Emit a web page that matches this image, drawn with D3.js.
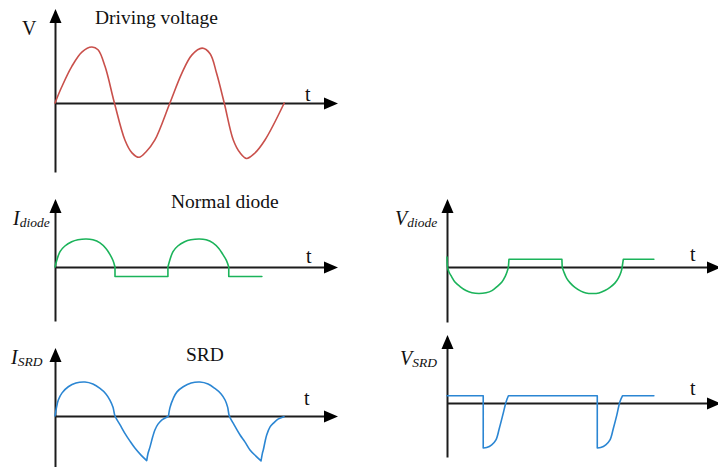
<!DOCTYPE html>
<html>
<head>
<meta charset="utf-8">
<script src="https://cdn.jsdelivr.net/npm/d3@7"></script>
<style>
  html, body { margin: 0; padding: 0; background: #fff; }
  svg { display: block; }
</style>
</head>
<body>
<svg id="chart" width="718" height="467"></svg>
<script>
// ---------- DATA (time units, normalised amplitude) ----------
const drivingVoltage = [
  [0,0],[2.4,0.29],[5.9,0.65],[9.5,0.91],[13.0,1.0],[15.2,0.95],[17.7,0.65],
  [21.0,0],[24.7,-0.66],[27.2,-0.89],[29.7,-0.97],[32.2,-0.87],[35.3,-0.66],
  [40.6,0],[44.8,0.53],[48.4,0.86],[52.0,0.98],[54.8,0.88],[57.1,0.53],
  [59.8,0],[63.0,-0.66],[65.4,-0.89],[67.7,-0.99],[70.3,-0.91],[74.2,-0.66],[81.0,0]
];

const iDiodePieces = [
  [[0,0],[1.77,0.55],[3.5,0.75],[5.9,0.9],[8.1,0.97],[11.0,1.0],[13.4,0.97],
   [15.9,0.86],[18.0,0.66],[19.4,0.45],[20.5,0.23],[21.2,0]],
  [[21.2,0],[21.2,-0.34]],
  [[21.2,-0.34],[39.9,-0.34]],
  [[39.9,-0.34],[39.9,0]],
  [[39.9,0],[41.7,0.55],[43.4,0.75],[45.8,0.9],[48.0,0.97],[51.0,1.0],[53.4,0.97],
   [55.8,0.86],[57.9,0.66],[59.3,0.45],[60.6,0.23],[61.4,0]],
  [[61.4,0],[61.4,-0.34]],
  [[61.4,-0.34],[73.1,-0.34]]
];

const vDiodePieces = [
  [[0,0.38],[0.18,0],[0.7,-0.19],[1.66,-0.37],[2.8,-0.57],[4.6,-0.74],[6.7,-0.89],
   [8.8,-0.97],[11.3,-1.0],[13.8,-0.97],[15.9,-0.89],[17.7,-0.74],[19.4,-0.57],
   [20.5,-0.37],[21.2,-0.19],[21.7,0]],
  [[21.7,0],[21.9,0.29]],
  [[21.9,0.29],[40.6,0.29]],
  [[40.6,0.29],[40.7,0]],
  [[40.7,0],[41.3,-0.19],[42.3,-0.43],[43.5,-0.6],[45.2,-0.77],[47.3,-0.91],[49.1,-0.98],
   [51.3,-1.0],[53.7,-0.98],[55.8,-0.89],[57.6,-0.77],[59.4,-0.6],[60.5,-0.43],
   [61.5,-0.19],[61.9,0]],
  [[61.9,0],[62.3,0.29]],
  [[62.3,0.29],[73.1,0.29]]
];

const iSrdPieces = [
  [[0,0],[0.5,0.24],[1.17,0.47],[2.5,0.68],[4.7,0.86],[7.4,0.97],[10.6,1.0],[13.4,0.94],
   [15.9,0.81],[18.0,0.65],[19.4,0.47],[20.5,0.26],[21.2,0],[23.0,-0.26],[24.7,-0.51],
   [26.5,-0.74],[28.3,-0.95],[30.4,-1.15],[32.4,-1.31]],
  [[32.4,-1.31],[32.9,-1.09],[33.6,-0.9],[34.5,-0.62],[35.3,-0.41],[36.4,-0.24],
   [37.7,-0.12],[38.9,-0.06],[39.8,-0.02]],
  [[40.1,0],[40.6,0.24],[41.8,0.52],[43.1,0.71],[45.3,0.86],[48.1,0.97],[51.2,1.0],
   [54.1,0.94],[56.5,0.81],[58.7,0.65],[60.1,0.47],[61.0,0.26],[61.6,0],[63.3,-0.26],
   [65.4,-0.56],[67.1,-0.76],[68.9,-1.0],[71.0,-1.18],[72.8,-1.32]],
  [[72.8,-1.32],[73.3,-1.09],[73.6,-1.0],[74.8,-0.56],[76.0,-0.32],[77.2,-0.21],
   [78.8,-0.09],[80.9,-0.02]]
];

const vSrdPieces = [
  [[0,0.16],[12.8,0.16]],
  [[12.8,0.16],[12.8,-1.0]],
  [[12.8,-1.0],[14.0,-0.99],[15.8,-0.93],[17.3,-0.82],[18.5,-0.56],[19.7,-0.27],[20.9,0.03],[21.7,0.16]],
  [[21.7,0.16],[53.1,0.16]],
  [[53.1,0.16],[53.1,-1.0]],
  [[53.1,-1.0],[54.3,-0.99],[56.1,-0.93],[57.6,-0.82],[58.8,-0.56],[60.0,-0.27],[61.1,0.03],[62.0,0.16]],
  [[62.0,0.16],[73.1,0.16]]
];

const titles = ["Driving voltage", "Normal diode", "SRD"];
const axisLabelT = "t";

// ---------- LAYOUT ----------
const FONT = "'Liberation Serif', 'Times New Roman', Times, serif";
const pxPerT = 2.83;
const colors = { red: "#c9504b", green: "#1bb35a", blue: "#2b86d3" };

const panels = [
  { pieces: [drivingVoltage], color: colors.red, x0: 55, zeroY: 103, unit: 56,
    tipY: 9, bottomY: 172, tipX: 338,
    yLabel: { main: "V", sub: null, x: 22, y: 35, italic: false },
    tLabel: { x: 305, y: 101 }, title: { text: titles[0], x: 95, y: 24 } },
  { pieces: iDiodePieces, color: colors.green, x0: 55, zeroY: 267, unit: 28,
    tipY: 199, bottomY: 321, tipX: 338,
    yLabel: { main: "I", sub: "diode", x: 13, y: 225, italic: true },
    tLabel: { x: 306, y: 263 }, title: { text: titles[1], x: 171, y: 208 } },
  { pieces: vDiodePieces, color: colors.green, x0: 447, zeroY: 267, unit: 26.5,
    tipY: 199, bottomY: 322, tipX: 721,
    yLabel: { main: "V", sub: "diode", x: 395, y: 225, italic: true },
    tLabel: { x: 690, y: 261 }, title: null },
  { pieces: iSrdPieces, color: colors.blue, x0: 55, zeroY: 416, unit: 34,
    tipY: 348, bottomY: 467, tipX: 338,
    yLabel: { main: "I", sub: "SRD", x: 11, y: 364, italic: true },
    tLabel: { x: 304, y: 405 }, title: { text: titles[2], x: 186, y: 361 } },
  { pieces: vSrdPieces, color: colors.blue, x0: 447, zeroY: 403, unit: 45,
    tipY: 335, bottomY: 457, tipX: 721,
    yLabel: { main: "V", sub: "SRD", x: 400, y: 365, italic: true },
    tLabel: { x: 690, y: 395 }, title: null }
];

const svg = d3.select("#chart");
svg.append("rect").attr("width", 718).attr("height", 467).attr("fill", "#fff");

const arrowLen = 14, arrowHalf = 6;
const axisColor = "#1c1c1c";

panels.forEach(p => {
  const tMax = (p.tipX - p.x0) / pxPerT;
  const x = d3.scaleLinear().domain([0, tMax]).range([p.x0, p.tipX]);
  const y = d3.scaleLinear().domain([-1, 1]).range([p.zeroY + p.unit, p.zeroY - p.unit]);
  const g = svg.append("g");

  // x axis
  const xEnd = p.tipX - 8;
  const xAxisScale = x.copy().domain([0, x.invert(xEnd)]).range([p.x0, xEnd]);
  const xa = g.append("g").attr("transform", `translate(0,${y(0)})`)
    .call(d3.axisBottom(xAxisScale).tickValues([]).tickSizeOuter(0));
  xa.select(".domain").attr("stroke", axisColor).attr("stroke-width", 2);

  // y axis
  const yTopVal = y.invert(p.tipY + 8), yBotVal = y.invert(p.bottomY);
  const yAxisScale = y.copy().domain([yBotVal, yTopVal]).range([p.bottomY, p.tipY + 8]);
  const ya = g.append("g").attr("transform", `translate(${x(0)},0)`)
    .call(d3.axisLeft(yAxisScale).tickValues([]).tickSizeOuter(0));
  ya.select(".domain").attr("stroke", axisColor).attr("stroke-width", 2);

  // arrowheads
  const ax = x(0) + 0.5, ay = y(0) + 0.5;
  g.append("path")
    .attr("d", `M${p.tipX},${ay} L${p.tipX - arrowLen},${ay - arrowHalf} L${p.tipX - arrowLen},${ay + arrowHalf} Z`)
    .attr("fill", "#000");
  g.append("path")
    .attr("d", `M${ax},${p.tipY} L${ax - arrowHalf},${p.tipY + arrowLen} L${ax + arrowHalf},${p.tipY + arrowLen} Z`)
    .attr("fill", "#000");

  // waveform
  const line = d3.line().x(d => x(d[0])).y(d => y(d[1])).curve(d3.curveCatmullRom.alpha(0.5));
  const dStr = p.pieces.map(pc => line(pc)).map((s, i) => i ? s.replace(/^M/, "L") : s).join("");
  g.append("path").attr("d", dStr).attr("fill", "none")
    .attr("stroke", p.color).attr("stroke-width", 1.6)
    .attr("stroke-linejoin", "round").attr("stroke-linecap", "round");

  // labels
  const lab = g.append("text").attr("x", p.yLabel.x).attr("y", p.yLabel.y)
    .attr("font-family", FONT).attr("fill", "#111");
  lab.append("tspan").text(p.yLabel.main)
    .attr("font-size", 20).attr("font-style", p.yLabel.italic ? "italic" : "normal");
  if (p.yLabel.sub) {
    lab.append("tspan").text(p.yLabel.sub).attr("dy", 2)
      .attr("font-size", 13.5).attr("font-style", "italic");
  }
  g.append("text").attr("x", p.tLabel.x).attr("y", p.tLabel.y)
    .attr("font-family", FONT).attr("fill", "#111")
    .attr("font-size", 20).text(axisLabelT);
  if (p.title) {
    g.append("text").attr("x", p.title.x).attr("y", p.title.y)
      .attr("font-family", FONT).attr("fill", "#111")
      .attr("font-size", 19.5).text(p.title.text);
  }
});
</script>
</body>
</html>
